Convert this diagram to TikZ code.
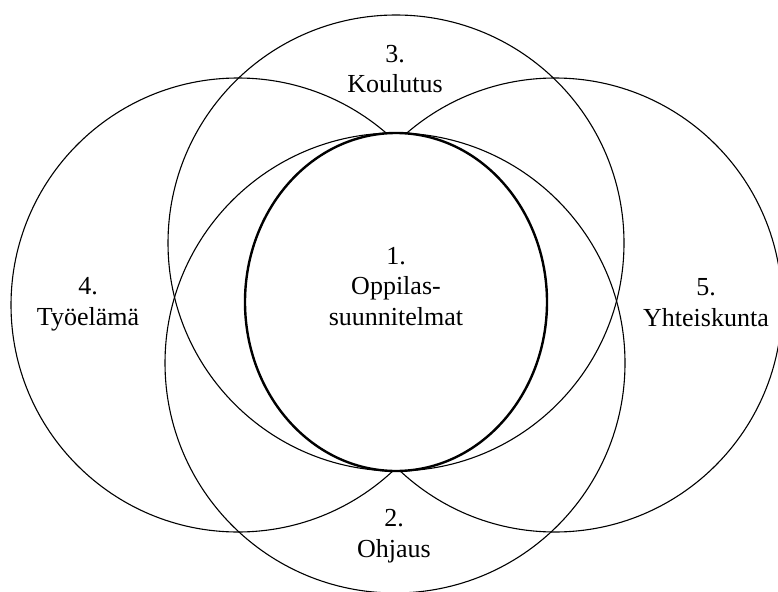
\documentclass[tikz,border=0pt]{standalone}
\usepackage{fontspec}
\setmainfont{Liberation Serif}
\begin{document}
\begin{tikzpicture}[x=1pt,y=-1pt,
  ring/.style={draw=black,line width=1.1pt},
  core/.style={draw=black,fill=white,line width=2.4pt},
  lbl/.style={align=center,anchor=base,inner sep=0pt,font=\fontsize{26}{30.5}\selectfont}]
\useasboundingbox (0,0) rectangle (778,591);
\clip (0,0) rectangle (778,591);
\fill[white] (0,0) rectangle (778,591);
\draw[ring] (396,243) circle[radius=228];
\draw[ring] (395,363) circle[radius=230];
\draw[ring] (238,305) circle[radius=227];
\draw[ring] (555,305) circle[radius=227];
\draw[core] (396,302) ellipse[x radius=151,y radius=169];
\node[lbl] (n1) at (396,325) {1.\\Oppilas-\\suunnitelmat};
\node[lbl] (n2) at (394,557) {2.\\Ohjaus};
\node[lbl] (n3) at (395,93) {3.\\Koulutus};
\node[lbl] (n4) at (88,325) {4.\\Työelämä};
\node[lbl] (n5) at (706,326) {5.\\Yhteiskunta};
\end{tikzpicture}
\end{document}
